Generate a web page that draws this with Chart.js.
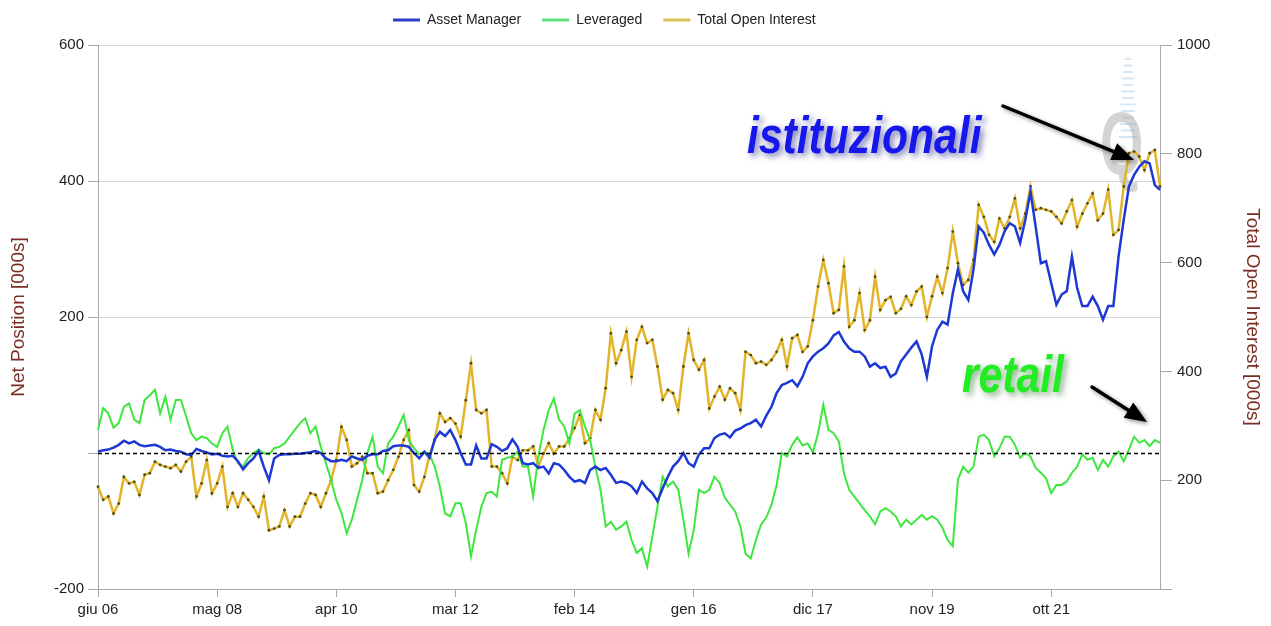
<!DOCTYPE html>
<html><head><meta charset="utf-8">
<script src="https://cdn.jsdelivr.net/npm/chart.js@4.4.0/dist/chart.umd.min.js"></script>
<style>html,body{margin:0;padding:0;background:#fff;}canvas{display:block;}</style>
</head><body>
<canvas id="c" width="1271" height="626"></canvas>
<script>
// ---- data (monthly, from giu 06) ----
const monthNames = ['gen','feb','mar','apr','mag','giu','lug','ago','set','ott','nov','dic'];
const startYear = 2006, startMonth = 5;
const labelEvery = 23;

const assetManager = [
2,4,5,8,12,18,14,17,12,10, 11,12,9,4,5,3,2,-2,-3,6,
3,1,-2,-1,-4,-5,-4,-12,-24,-15, -8,3,-20,-40,-8,-3,-2,-2,-1,-1,
0,1,3,0,-8,-12,-12,-10,-12,-5, -8,-10,-4,-2,-2,3,4,10,11,11,
9,0,-8,2,-7,20,31,25,34,19, 0,-17,-17,11,-8,-8,13,9,3,7,
20,9,-15,-17,-15,-22,-20,-30,-15,-17, -25,-35,-42,-40,-44,-25,-20,-25,-22,-32,
-44,-42,-44,-49,-59,-42,-52,-59,-71,-52, -35,-20,-12,0,-15,-20,-2,7,7,22,
27,29,23,33,36,41,44,49,39,55, 68,88,100,103,107,98,112,132,142,149,
154,161,173,178,164,154,149,149,142,127, 132,125,127,112,117,135,145,155,164,145,
112,157,181,193,189,235,270,238,225,270, 333,324,306,292,306,326,338,333,309,343,
384,333,279,282,250,218,233,238,289,243, 216,216,230,216,196,216,216,289,343,392,
409,421,429,426,394,387
];
const leveraged = [
34,66,58,37,44,68,73,49,44,78, 85,93,58,83,49,78,78,54,29,19,
24,22,14,9,29,39,5,-15,-20,-7, 0,5,0,-2,7,9,14,24,34,44,
51,29,39,9,-15,-40,-69,-88,-118,-98, -69,-40,0,24,-20,-30,14,24,39,56,
19,7,-2,2,-2,-20,-50,-89,-93,-74, -74,-103,-152,-113,-79,-59,-57,-64,-10,-7,
-5,2,-20,-20,-64,-5,34,63,80,49, 39,14,58,63,39,19,-20,-54,-108,-101,
-113,-108,-101,-128,-147,-140,-167,-123,-79,-35, -49,-42,-54,-98,-148,-113,-54,-59,-54,-35,
-44,-66,-76,-86,-108,-148,-155,-128,-105,-95, -76,-47,0,-5,12,23,11,14,1,29,
71,34,29,17,-30,-54,-64,-74,-84,-93, -105,-86,-81,-86,-93,-108,-98,-105,-98,-91,
-98,-93,-98,-110,-128,-137,-39,-20,-29,-20, 24,27,19,-5,7,24,24,12,-7,0,
-5,-22,-29,-37,-59,-47,-47,-42,-29,-20, -2,-10,-7,-25,-10,-20,-5,2,-12,5,
24,15,19,10,19,15
];
const openInterest = [
188,164,170,139,157,206,194,197,173,210, 213,234,228,225,222,228,216,234,243,170,
194,237,176,194,225,151,176,151,176,164, 151,133,170,108,111,115,145,115,133,133,
157,176,173,151,176,200,237,298,274,225, 231,243,213,213,176,179,200,219,243,274,
292,191,179,206,246,274,323,307,314,304, 280,347,415,329,323,329,225,225,213,194,
243,237,255,255,262,225,249,268,249,262, 262,277,296,320,268,277,329,311,369,470,
415,439,473,390,458,482,452,458,409,348, 366,360,329,409,470,421,403,421,332,354,
372,348,369,360,329,436,430,415,418,412, 421,436,458,409,461,467,436,446,494,556,
605,562,507,513,593,482,494,544,476,494, 574,513,531,537,507,515,538,522,547,556,
500,538,574,544,590,657,599,559,568,605, 706,684,651,638,681,663,684,718,663,690,
740,697,700,697,694,684,672,694,715,666, 690,709,727,678,690,734,651,660,740,801,
804,795,770,801,807,740
];

const categories = assetManager.map((_, i) => {
  const m = startMonth + i;
  const y = startYear + Math.floor(m / 12);
  return monthNames[m % 12] + ' ' + String(y % 100).padStart(2, '0');
});

const FONT = "'Liberation Sans', Arial, Helvetica, sans-serif";
Chart.defaults.font.family = FONT;
Chart.defaults.color = '#222';

const AXIS_GRAY = '#a9a9a9';
const TITLE_COLOR = '#7a2e22';
const legendLineColors = ['#2b3fc4', '#5ce07a', '#dcc055'];

const legendShift = {
  id: 'legendShift',
  afterLayout(chart) {
    const lg = chart.legend;
    if (!lg || !lg.lineWidths) return;
    const pad = lg.options.labels.padding;
    const cur = (lg.left + pad + lg.right - lg.lineWidths[0]) / 2;
    const dx = 393 - cur;
    lg.left += dx; lg.right += dx;
    lg.top -= 8; lg.bottom -= 8;
  }
};

function condensedText(ctx, text, x, y, size, color, shadow, sx) {
  ctx.save();
  ctx.translate(x, y);
  ctx.scale(sx, 1);
  ctx.font = `italic bold ${size}px ${FONT}`;
  ctx.textBaseline = 'alphabetic';
  ctx.textAlign = 'left';
  ctx.shadowColor = shadow;
  ctx.shadowBlur = 6;
  ctx.shadowOffsetX = 3;
  ctx.shadowOffsetY = 3;
  ctx.fillStyle = color;
  ctx.fillText(text, 0, 0);
  ctx.restore();
}
function arrow(ctx, x1, y1, x2, y2) {
  const ang = Math.atan2(y2 - y1, x2 - x1);
  const hl = 22, hw = 9;
  const bx = x2 - hl * Math.cos(ang), by = y2 - hl * Math.sin(ang);
  ctx.save();
  ctx.shadowColor = 'rgba(0,0,0,0.45)';
  ctx.shadowBlur = 4; ctx.shadowOffsetX = 2; ctx.shadowOffsetY = 2;
  ctx.strokeStyle = '#000'; ctx.fillStyle = '#000';
  ctx.lineWidth = 3.5; ctx.lineCap = 'round';
  ctx.beginPath(); ctx.moveTo(x1, y1); ctx.lineTo(bx, by); ctx.stroke();
  ctx.beginPath();
  ctx.moveTo(x2, y2);
  ctx.lineTo(bx + hw * Math.sin(ang), by - hw * Math.cos(ang));
  ctx.lineTo(bx - hw * Math.sin(ang), by + hw * Math.cos(ang));
  ctx.closePath(); ctx.fill();
  ctx.restore();
}

const decorations = {
  id: 'decorations',
  beforeDatasetsDraw(chart) {
    const ctx = chart.ctx;
    ctx.save();
    ctx.fillStyle = 'rgba(150,195,230,0.4)';
    const stripeW = [6,8,10,12,10,14,12,16,14,12,16,14,18];
    stripeW.forEach((w, k) => { ctx.fillRect(1128 - w / 2, 58 + k * 6.5, w, 2); });
    ctx.globalAlpha = 0.45;
    ctx.fillStyle = '#a0a0a0';
    ctx.translate(1100, 150);
    ctx.scale(0.58, 0.92);
    ctx.font = `bold 96px ${FONT}`;
    ctx.fillText('Q', 0, 0);
    ctx.restore();
  },
  afterDatasetsDraw(chart) {
    const ctx = chart.ctx, ca = chart.chartArea;
    const y0 = Math.round(chart.scales.y.getPixelForValue(0)) + 0.5;
    ctx.save();
    ctx.setLineDash([4, 3]);
    ctx.strokeStyle = '#000';
    ctx.lineWidth = 1.3;
    ctx.beginPath(); ctx.moveTo(ca.left, y0); ctx.lineTo(ca.right, y0); ctx.stroke();
    ctx.restore();
    condensedText(ctx, 'istituzionali', 747, 153, 52, '#1717ec', 'rgba(50,50,140,0.65)', 0.82);
    condensedText(ctx, 'retail', 962, 392, 52, '#22ec22', 'rgba(40,110,40,0.55)', 0.82);
    arrow(ctx, 1003, 106, 1134, 160);
    arrow(ctx, 1092, 387, 1147, 422);
  }
};

new Chart(document.getElementById('c'), {
  type: 'line',
  data: {
    labels: categories,
    datasets: [
      { label: 'Asset Manager', data: assetManager, yAxisID: 'y', borderColor: '#1d38d4', backgroundColor: '#1d38d4', borderWidth: 2.5, pointRadius: 0, tension: 0 },
      { label: 'Leveraged', data: leveraged, yAxisID: 'y', borderColor: '#3fe63f', backgroundColor: '#3fe63f', borderWidth: 2, pointRadius: 0, tension: 0 },
      { label: 'Total Open Interest', data: openInterest, yAxisID: 'y1', borderColor: '#e2b42c', backgroundColor: '#e2b42c', borderWidth: 2.5, pointRadius: 1.4, pointBackgroundColor: '#4e4e1c', pointBorderColor: '#4e4e1c', pointBorderWidth: 0, tension: 0 }
    ]
  },
  options: {
    responsive: false,
    animation: false,
    devicePixelRatio: 1,
    layout: { padding: 0 },
    plugins: {
      legend: {
        position: 'top',
        labels: {
          usePointStyle: true, pointStyle: 'line', pointStyleWidth: 27, padding: 21, font: { size: 14 }, color: '#222',
          generateLabels: chart => Chart.defaults.plugins.legend.labels.generateLabels(chart).map(it => Object.assign({}, it, {
            strokeStyle: legendLineColors[it.datasetIndex], fillStyle: legendLineColors[it.datasetIndex], lineWidth: 3, pointStyle: 'line'
          }))
        }
      },
      tooltip: { enabled: false }
    },
    scales: {
      x: {
        type: 'category',
        offset: false,
        grid: { drawOnChartArea: false, tickLength: 8, tickColor: AXIS_GRAY },
        border: { color: AXIS_GRAY },
        ticks: { autoSkip: false, maxRotation: 0, minRotation: 0, padding: 4, font: { size: 15 },
          callback: (v, i) => (i % labelEvery === 0 ? categories[i] : null) },
        afterFit: s => { s.height = 37; }
      },
      y: {
        position: 'left', min: -200, max: 600,
        ticks: { stepSize: 200, padding: 4, font: { size: 15 }, callback: v => (v === 0 ? '' : v) },
        grid: { color: c => (c.tick && c.tick.value === 0 ? 'rgba(0,0,0,0)' : '#d6d6d6'), tickLength: 10, tickColor: AXIS_GRAY },
        border: { color: AXIS_GRAY },
        title: { display: true, text: 'Net Position [000s]', color: TITLE_COLOR, font: { size: 19 }, padding: { top: 7, bottom: 0 } },
        afterFit: s => { s.width = 98; }
      },
      y1: {
        position: 'right', min: 0, max: 1000,
        ticks: { stepSize: 200, padding: 5, font: { size: 15 }, callback: v => (v === 0 ? '' : v) },
        grid: { drawOnChartArea: false, tickLength: 12, tickColor: AXIS_GRAY },
        border: { color: AXIS_GRAY },
        title: { display: true, text: 'Total Open Interest [000s]', color: TITLE_COLOR, font: { size: 19 }, padding: { top: 7, bottom: 0 } },
        afterFit: s => { s.width = 111; }
      }
    }
  },
  plugins: [legendShift, decorations]
});
</script>
</body></html>
